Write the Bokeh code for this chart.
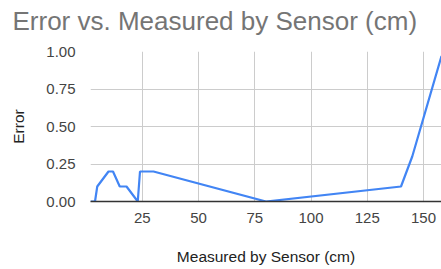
from bokeh.plotting import figure
from bokeh.models import Range1d, FixedTicker, NumeralTickFormatter, Title
from bokeh.embed import file_html
from bokeh.resources import INLINE

# data
measured = [2, 4, 5, 10, 12, 15, 18, 23, 24, 30, 80, 140, 145, 158]
error = [0, 0, 0.1, 0.2, 0.2, 0.1, 0.1, 0, 0.2, 0.2, 0, 0.1, 0.3, 0.97]
x_ticks = [25, 50, 75, 100, 125, 150]
y_ticks = [0, 0.25, 0.5, 0.75, 1.0]
title_text = "Error vs. Measured by Sensor (cm)"

FONT = "Liberation Sans"

p = figure(width=441, height=269, output_backend="svg", toolbar_location=None,
           x_range=Range1d(2, 158), y_range=Range1d(0, 1),
           min_border_left=90, min_border_right=0, min_border_top=51,
           min_border_bottom=68)
p.outline_line_color = None

# spacer between frame and title (closest to the frame)
p.add_layout(Title(text=" ", text_font_size="1px", standoff=7), "above")
p.add_layout(Title(text=title_text, text_font=FONT, text_font_size="26px",
                   text_font_style="normal", text_color="#757575",
                   align="left", offset=-78, vertical_align="top",
                   standoff=8), "above")

p.line(measured, error, line_color="#4285F4", line_width=2.2)

p.xaxis.ticker = FixedTicker(ticks=x_ticks)
p.yaxis.ticker = FixedTicker(ticks=y_ticks)
p.yaxis.formatter = NumeralTickFormatter(format="0.00")

for ax in (p.xaxis, p.yaxis):
    ax.major_tick_line_color = None
    ax.minor_tick_line_color = None
    ax.major_label_text_font = FONT
    ax.major_label_text_font_size = "15px"
    ax.major_label_text_color = "#444444"
    ax.axis_label_text_font = FONT
    ax.axis_label_text_font_size = "15.5px"
    ax.axis_label_text_font_style = "normal"
    ax.axis_label_text_color = "#222222"

p.xaxis.axis_label = "Measured by Sensor (cm)"
p.yaxis.axis_label = "Error"
p.xaxis.axis_line_color = "#333333"
p.xaxis.axis_line_width = 1.5
p.yaxis.axis_line_color = None
p.xaxis.major_label_standoff = 5
p.yaxis.major_label_standoff = 9
p.xaxis.axis_label_standoff = 22
p.yaxis.axis_label_standoff = 16

p.xgrid.grid_line_color = "#cccccc"
p.ygrid.grid_line_color = "#cccccc"

open("out.html", "w").write(file_html(p, INLINE))
